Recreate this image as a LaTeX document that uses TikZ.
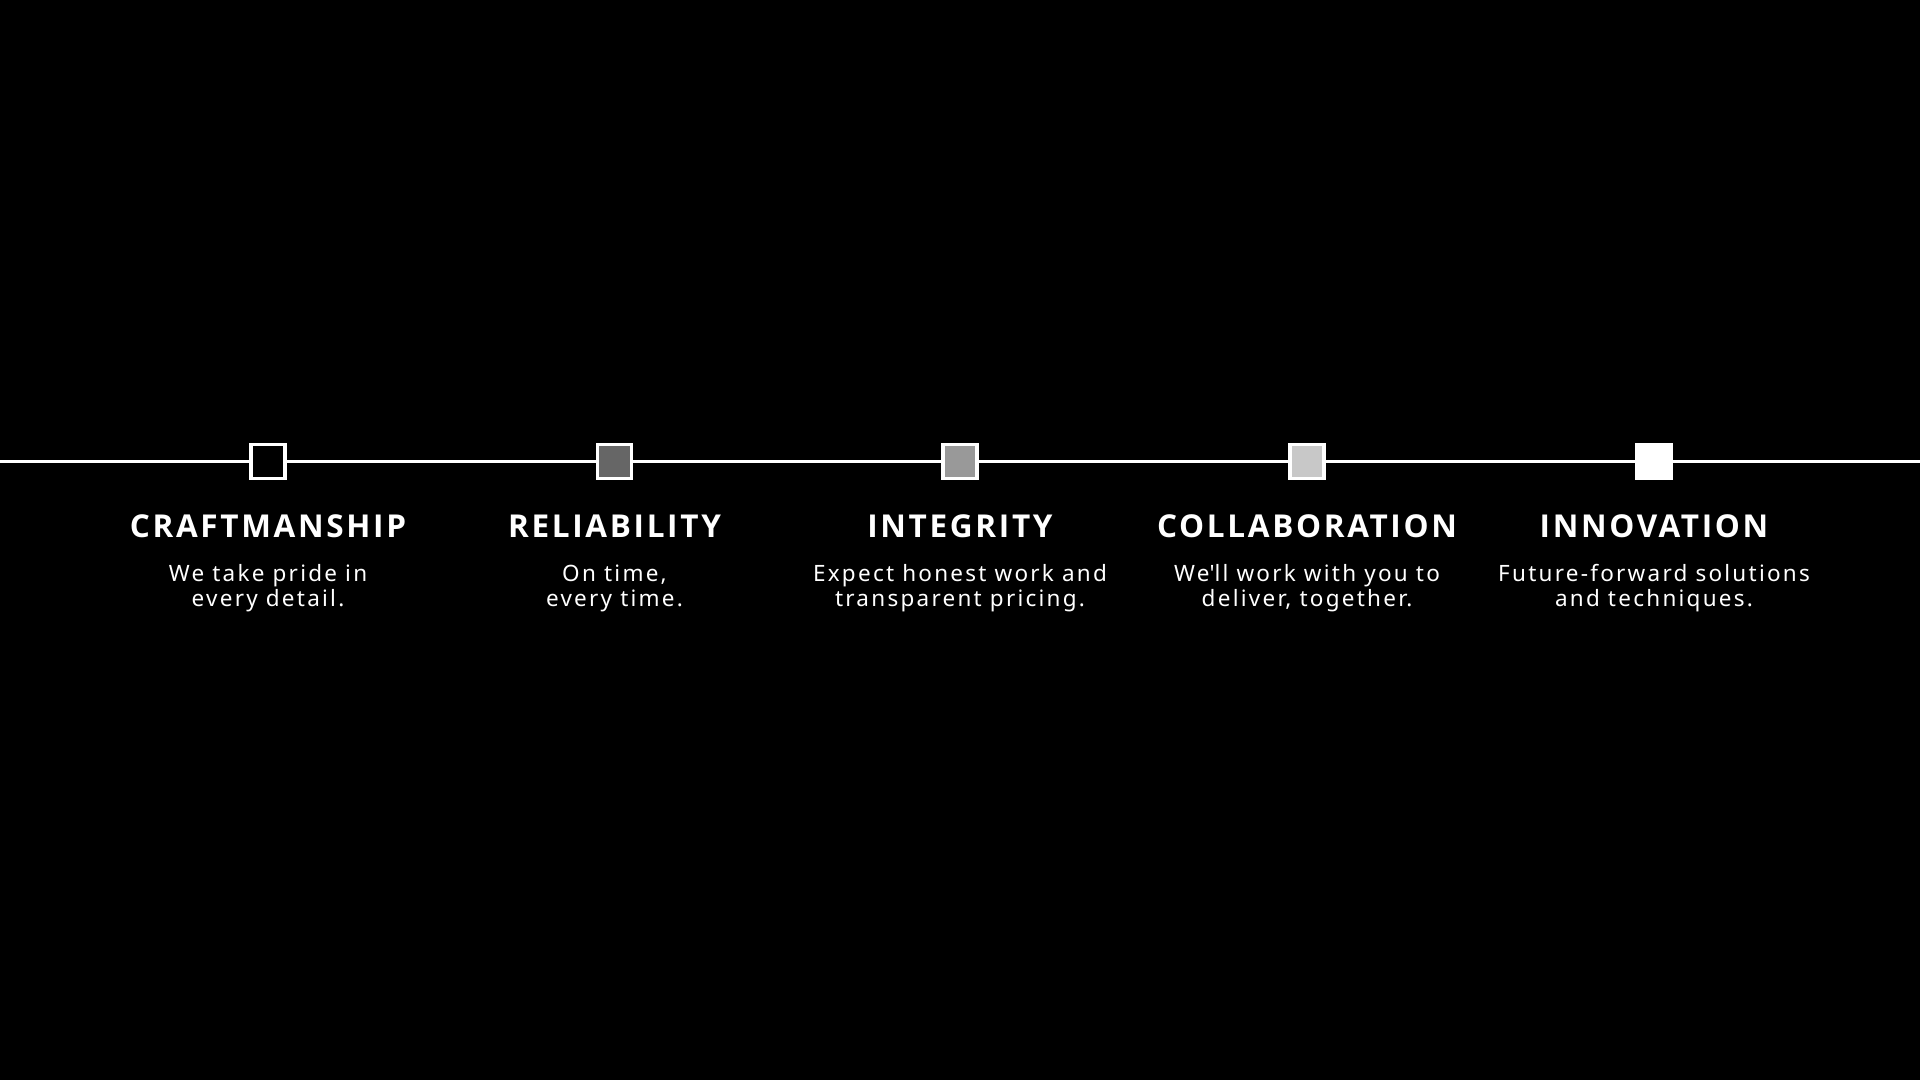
\documentclass[tikz,border=0pt]{standalone}
\usepackage{fontspec}
\setmainfont{Noto Sans}
\newfontfamily\titlefont{Open Sans}[LetterSpace=8.5]
\newfontfamily\descfont{Noto Sans}[LetterSpace=10]
\usetikzlibrary{positioning}

\definecolor{valuedark}{HTML}{666666}
\definecolor{valuemid}{HTML}{999999}
\definecolor{valuelight}{HTML}{C8C8C8}

\tikzset{
    valuebox/.style={draw=white, line width=3.3pt, minimum size=34pt, inner sep=0pt},
    valuetitle/.style={text=white, anchor=base, font=\titlefont\bfseries\fontsize{31.5}{34}\selectfont},
    valuetext/.style={text=white, anchor=base, align=center, font=\descfont\fontsize{22.5}{24.5}\selectfont}
}

\begin{document}
\begin{tikzpicture}[x=1pt, y=-1pt]
    \fill[black] (0,0) rectangle (1920,1080);
    \useasboundingbox (0,0) rectangle (1920,1080);

    % Markers on the line
    \node[valuebox, fill=black] (craft) at (268,461.5) {};
    \node[valuebox, fill=valuedark] (reliab) at (614.5,461.5) {};
    \node[valuebox, fill=valuemid] (integ) at (960,461.5) {};
    \node[valuebox, fill=valuelight] (collab) at (1307,461.5) {};
    \node[valuebox, fill=white] (innov) at (1654,461.5) {};

    % Line through the markers
    \coordinate (lineL) at (0,461.5);
    \coordinate (lineR) at (1920,461.5);
    \draw[white, line width=3.5pt] (lineL) -- (craft);
    \draw[white, line width=3.5pt] (craft) -- (reliab);
    \draw[white, line width=3.5pt] (reliab) -- (integ);
    \draw[white, line width=3.5pt] (integ) -- (collab);
    \draw[white, line width=3.5pt] (collab) -- (innov);
    \draw[white, line width=3.5pt] (innov) -- (lineR);

    % Titles
    \node[valuetitle] (craftT) at (268,537) {CRAFTMANSHIP};
    \node[valuetitle] (reliabT) at (614.5,537) {RELIABILITY};
    \node[valuetitle] (integT) at (960,537) {INTEGRITY};
    \node[valuetitle] (collabT) at (1307,537) {COLLABORATION};
    \node[valuetitle] (innovT) at (1654,537) {INNOVATION};

    % Descriptions (base is the last line)
    \node[valuetext] (craftD) at (268,606) {We take pride in\\every detail.};
    \node[valuetext] (reliabD) at (614.5,606) {On time,\\every time.};
    \node[valuetext] (integD) at (960,606) {Expect honest work and\\transparent pricing.};
    \node[valuetext] (collabD) at (1307,606) {We\textquotesingle ll work with you to\\deliver, together.};
    \node[valuetext] (innovD) at (1654,606) {Future-forward solutions\\and techniques.};
\end{tikzpicture}
\end{document}
